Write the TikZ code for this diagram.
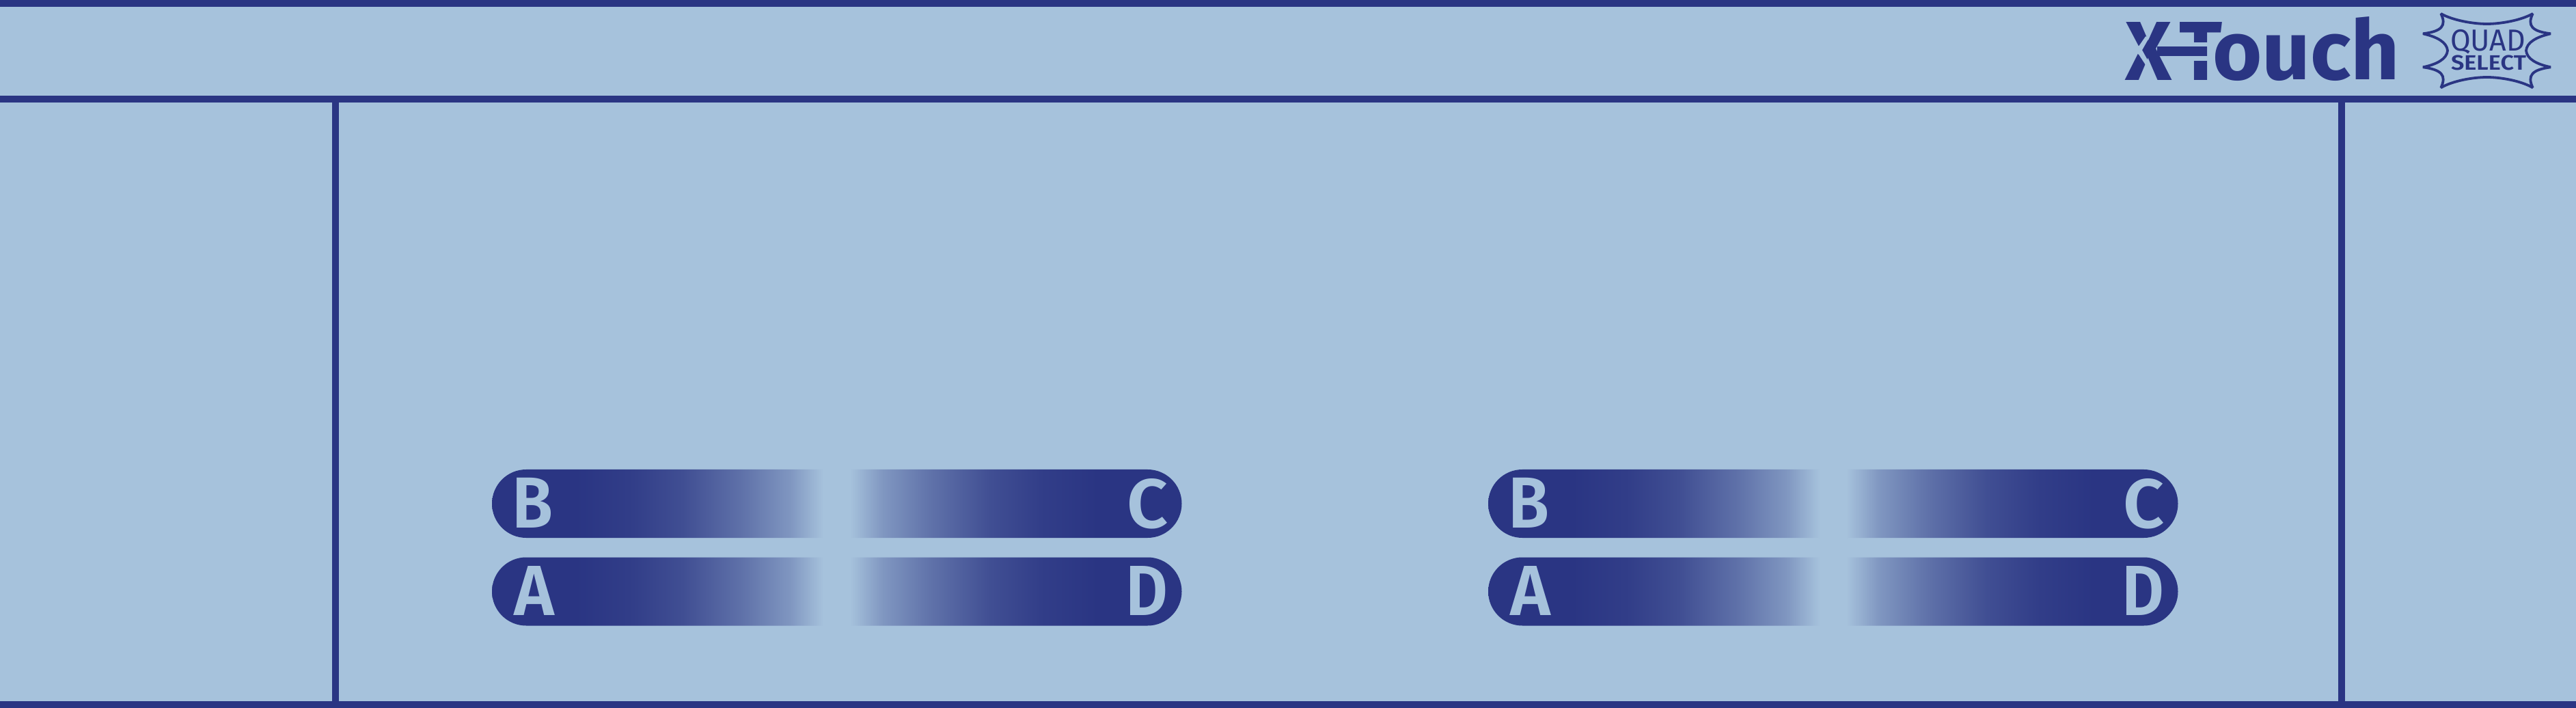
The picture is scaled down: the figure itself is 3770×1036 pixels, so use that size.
\documentclass[tikz,border=0pt]{standalone}
\usepackage{fontspec}
\setmainfont{Liberation Sans}
\newfontfamily\labelfont{Fira Sans SemiBold}
\newfontfamily\logofont{Fira Sans Bold}
\newfontfamily\quadfont{Fira Sans}
\definecolor{pb}{HTML}{A6C2DC}
\definecolor{pd}{HTML}{2A3583}
\colorlet{pz}{pd!94!pb}
\colorlet{pa}{pd!82!pb}
\colorlet{pc}{pd!57!pb}
\colorlet{pe}{pd!31!pb}
\pgfdeclarehorizontalshading{pillL}{100bp}{color(0bp)=(pd); color(37.7bp)=(pd); color(46bp)=(pz); color(53.85bp)=(pa); color(62.75bp)=(pc); color(70bp)=(pe); color(75bp)=(pb); color(100bp)=(pb)}
\pgfdeclarehorizontalshading{pillR}{100bp}{color(0bp)=(pb); color(25bp)=(pb); color(30bp)=(pe); color(37.25bp)=(pc); color(46.15bp)=(pa); color(54bp)=(pz); color(62.3bp)=(pd); color(100bp)=(pd)}
\tikzset{
  ink/.style={fill=pd,draw=none},
  paper/.style={fill=pb,draw=none},
  plain/.style={inner sep=0pt,outer sep=0pt,text=pd},
  letter/.style={inner sep=0pt,outer sep=0pt,text=pb,anchor=base west,font=\labelfont},
  outline/.style={draw=pd,line width=0.95pt,line join=bevel}
}
\begin{document}
\begin{tikzpicture}[x=0.25pt,y=-0.25pt]
\useasboundingbox (0,0) rectangle (3770,1036);
\fill[pb] (0,0) rectangle (3770,1036);
% frame
\fill[ink] (0,0) rectangle (3770,10);
\fill[ink] (0,140) rectangle (3770,150);
\fill[ink] (0,1025.5) rectangle (3770,1035.5);
\fill[ink] (486,150) rectangle (496,1025.5);
\fill[ink] (3422,150) rectangle (3432,1025.5);
% pills
\foreach \dx in {0,1458}{
 \begin{scope}[shift={(\dx,0)}]
 \foreach \top in {687,815.5}{
  \shade[shading=pillL] (770,\top) .. controls (742.4,\top) and (720,\top+22.4) .. (720,\top+50)
     .. controls (720,\top+77.6) and (742.4,\top+100) .. (770,\top+100) -- (1205,\top+100) -- (1205,\top) -- cycle;
  \shade[shading=pillR] (1244,\top) -- (1679.5,\top) .. controls (1707.1,\top) and (1729.5,\top+22.4) .. (1729.5,\top+50)
     .. controls (1729.5,\top+77.6) and (1707.1,\top+100) .. (1679.5,\top+100) -- (1244,\top+100) -- cycle;
 }
 \node[letter] (b\dx) at (749,772.7) {\resizebox{15pt}{18.3pt}{B}};
 \node[letter] (a\dx) at (752,900) {\resizebox{14.75pt}{18pt}{A}};
 \node[letter] (c\dx) at (1649,772) {\resizebox{15pt}{18pt}{C}};
 \node[letter] (d\dx) at (1647,900) {\resizebox{15.5pt}{18pt}{D}};
 \end{scope}
}
% logo
\node[plain,anchor=south west] (logox) at (3110,118) {\resizebox{17pt}{21.25pt}{\logofont X}};
\fill[paper] (3140,53.3) -- (3146.3,53.3) -- (3135,73.3) -- (3147,95) -- (3140,95) -- (3130.7,80.7) -- (3123.3,73.3) -- (3130.7,66.7) -- cycle;
\node[plain,anchor=south west] (logot) at (3189,118) {\resizebox{15.75pt}{21.25pt}{\logofont T}};
\fill[paper] (3205,62) rectangle (3235,68.3);
\fill[paper] (3205,82.3) rectangle (3235,89);
\fill[ink] (3156.7,68.3) rectangle (3228.3,82.3);
\node[plain,anchor=base west] (logoouch) at (3238,117) {\resizebox{68.5pt}{23pt}{\logofont ouch}};
% badge
\draw[outline] (3572.3,20) .. controls (3590,30) and (3620,35) .. (3639.5,35)
   .. controls (3659,35) and (3689,30) .. (3706.7,20)
   .. controls (3698,38) and (3706,46) .. (3733,49.3)
   .. controls (3712,54) and (3698,62) .. (3697,74)
   .. controls (3698,86) and (3712,94) .. (3733,98.3)
   .. controls (3706,102) and (3698,110) .. (3706.7,128.3)
   .. controls (3689,118) and (3659,113) .. (3639.5,113)
   .. controls (3620,113) and (3590,118) .. (3572.3,128.3)
   .. controls (3581,110) and (3573,102) .. (3546,98.3)
   .. controls (3567,94) and (3581,86) .. (3582,74)
   .. controls (3581,62) and (3567,54) .. (3546,49.3)
   .. controls (3573,46) and (3581,38) .. (3572.3,20) -- cycle;
\node[plain,anchor=base west,font=\quadfont] (quad) at (3586,75) {\resizebox{27.5pt}{7.8pt}{QUAD}};
\node[plain,anchor=base west,font=\labelfont] (select) at (3587,103) {\resizebox{27.5pt}{5.4pt}{SELECT}};
\end{tikzpicture}
\end{document}
